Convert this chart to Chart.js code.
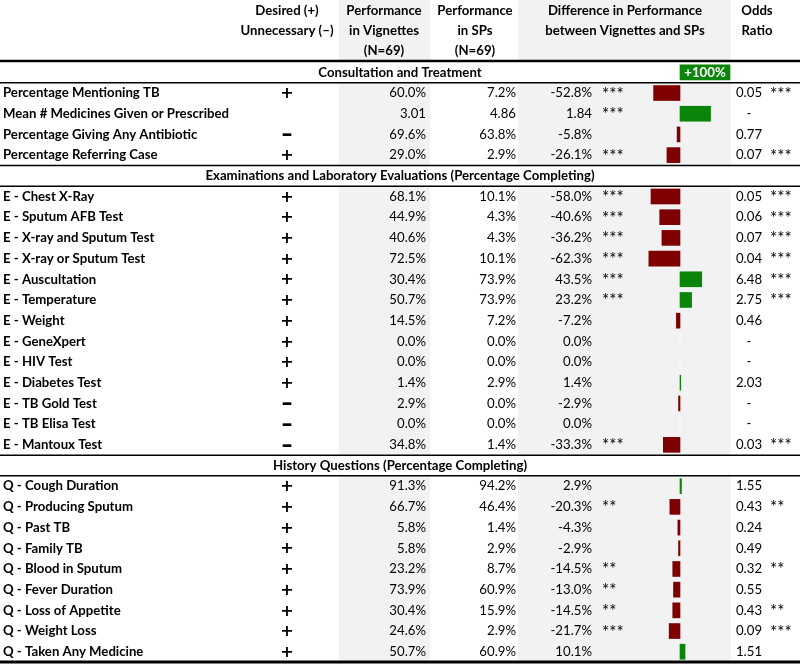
<!DOCTYPE html>
<html>
<head>
<meta charset="utf-8">
<script src="https://cdn.jsdelivr.net/npm/chart.js@4.4.0/dist/chart.umd.min.js"></script>
<style>
  html, body { margin: 0; padding: 0; background: #fff; }
</style>
</head>
<body>
<canvas id="tabela" width="800" height="670"></canvas>
<script>
// Table rows (section titles included so every row lives on the y scale)
const rowLabels = [
    'Consultation and Treatment',
    'Percentage Mentioning TB',
    'Mean # Medicines Given or Prescribed',
    'Percentage Giving Any Antibiotic',
    'Percentage Referring Case',
    'Examinations and Laboratory Evaluations (Percentage Completing)',
    'E - Chest X-Ray',
    'E - Sputum AFB Test',
    'E - X-ray and Sputum Test',
    'E - X-ray or Sputum Test',
    'E - Auscultation',
    'E - Temperature',
    'E - Weight',
    'E - GeneXpert',
    'E - HIV Test',
    'E - Diabetes Test',
    'E - TB Gold Test',
    'E - TB Elisa Test',
    'E - Mantoux Test',
    'History Questions (Percentage Completing)',
    'Q - Cough Duration',
    'Q - Producing Sputum',
    'Q - Past TB',
    'Q - Family TB',
    'Q - Blood in Sputum',
    'Q - Fever Duration',
    'Q - Loss of Appetite',
    'Q - Weight Loss',
    'Q - Taken Any Medicine'
];
const sectionRows = [0, 5, 19];

const signs = ['', '+', '', '\u2013', '+', '', '+', '+', '+', '+', '+', '+', '+', '+', '+', '+', '\u2013', '\u2013', '\u2013',
    '', '+', '+', '+', '+', '+', '+', '+', '+', '+'];
const vignettes = ['', '60.0%', '3.01', '69.6%', '29.0%', '', '68.1%', '44.9%', '40.6%', '72.5%', '30.4%', '50.7%', '14.5%',
    '0.0%', '0.0%', '1.4%', '2.9%', '0.0%', '34.8%', '', '91.3%', '66.7%', '5.8%', '5.8%', '23.2%', '73.9%', '30.4%', '24.6%', '50.7%'];
const sps = ['', '7.2%', '4.86', '63.8%', '2.9%', '', '10.1%', '4.3%', '4.3%', '10.1%', '73.9%', '73.9%', '7.2%',
    '0.0%', '0.0%', '2.9%', '0.0%', '0.0%', '1.4%', '', '94.2%', '46.4%', '1.4%', '2.9%', '8.7%', '60.9%', '15.9%', '2.9%', '60.9%'];
const diffText = ['', '-52.8%', '1.84', '-5.8%', '-26.1%', '', '-58.0%', '-40.6%', '-36.2%', '-62.3%', '43.5%', '23.2%', '-7.2%',
    '0.0%', '0.0%', '1.4%', '-2.9%', '0.0%', '-33.3%', '', '2.9%', '-20.3%', '-4.3%', '-2.9%', '-14.5%', '-13.0%', '-14.5%', '-21.7%', '10.1%'];
const diffStars = ['', '***', '***', '', '***', '', '***', '***', '***', '***', '***', '***', '', '', '', '', '', '', '***',
    '', '', '**', '', '', '**', '**', '**', '***', ''];
// Bar lengths (percentage points); the first one is the +100% scale key
const barValues = [100, -52.8, 61.1, -5.8, -26.1, null, -58.0, -40.6, -36.2, -62.3, 43.5, 23.2, -7.2, 0, 0, 1.4, -2.9, 0, -33.3,
    null, 2.9, -20.3, -4.3, -2.9, -14.5, -13.0, -14.5, -21.7, 10.1];
const oddsRatio = ['', '0.05', '-', '0.77', '0.07', '', '0.05', '0.06', '0.07', '0.04', '6.48', '2.75', '0.46', '-', '-', '2.03',
    '-', '-', '0.03', '', '1.55', '0.43', '0.24', '0.49', '0.32', '0.55', '0.43', '0.09', '1.51'];
const oddsStars = ['', '***', '', '', '***', '', '***', '***', '***', '***', '***', '***', '', '', '', '', '', '', '***',
    '', '', '**', '', '', '**', '', '**', '***', ''];

// Column headers
const headers = [
    { x: 287, lines: ['Desired (+)', 'Unnecessary (\u2013)'] },
    { x: 384, lines: ['Performance', 'in Vignettes', '(N=69)'] },
    { x: 475, lines: ['Performance', 'in SPs', '(N=69)'] },
    { x: 625, lines: ['Difference in Performance', 'between Vignettes and SPs'] },
    { x: 757, lines: ['Odds', 'Ratio'] }
];

const FONT = 'Lato';
const FONT_SIZE = 13.2;
const RED = '#7f0000';
const GREEN = '#0a850a';
const SHADE = '#f2f2f2';

const tablePlugin = {
    id: 'tableText',
    beforeDraw: function(chart) {
        const { ctx, chartArea, scales } = chart;
        const y = scales.y;
        const step = y.getPixelForValue(1) - y.getPixelForValue(0);

        ctx.save();
        // Grey background for vignettes and difference columns
        ctx.fillStyle = SHADE;
        ctx.fillRect(339, 0, 91, chartArea.bottom);
        ctx.fillRect(chartArea.left, 0, chartArea.right - chartArea.left, chartArea.bottom);
        // Section rows stay white
        ctx.fillStyle = '#fff';
        sectionRows.forEach(i => {
            const yc = y.getPixelForValue(i);
            ctx.fillRect(0, yc - step / 2, chart.width, step);
        });
        ctx.restore();
    },
    afterDraw: function(chart) {
        const { ctx, chartArea, scales } = chart;
        const y = scales.y;
        const step = y.getPixelForValue(1) - y.getPixelForValue(0);

        ctx.save();
        ctx.fillStyle = '#000';
        ctx.textBaseline = 'middle';

        // Header
        ctx.font = `bold ${FONT_SIZE}px ${FONT}`;
        ctx.textAlign = 'center';
        headers.forEach(h => {
            h.lines.forEach((t, k) => ctx.fillText(t, h.x, 11 + k * 19.8));
        });

        // Rules
        ctx.strokeStyle = '#000';
        const hline = (yPos, w) => {
            ctx.lineWidth = w;
            ctx.beginPath();
            ctx.moveTo(0, yPos);
            ctx.lineTo(chart.width, yPos);
            ctx.stroke();
        };
        hline(chartArea.top - 1, 2.5);
        sectionRows.forEach(i => {
            const yc = y.getPixelForValue(i);
            if (i > 0) hline(yc - step / 2, 1.5);
            hline(yc + step / 2, 1.5);
        });
        hline(chartArea.bottom, 3);

        // Section titles
        ctx.font = `bold ${FONT_SIZE}px ${FONT}`;
        ctx.textAlign = 'center';
        sectionRows.forEach(i => {
            ctx.fillText(rowLabels[i], chart.width / 2, y.getPixelForValue(i));
        });

        // Cells
        rowLabels.forEach((label, i) => {
            if (sectionRows.includes(i)) return;
            const yc = y.getPixelForValue(i);

            // Signs: the dash needs a bigger size to look as wide as the plus
            ctx.font = signs[i] === '+' ? 'bold 16px "DejaVu Sans"' : 'bold 22px "DejaVu Sans"';
            ctx.textAlign = 'center';
            ctx.fillText(signs[i], 287, yc + 1);

            ctx.font = `${FONT_SIZE}px ${FONT}`;
            ctx.textAlign = 'right';
            ctx.fillText(vignettes[i], 426, yc);
            ctx.fillText(sps[i], 516, yc);
            ctx.fillText(diffText[i], 592, yc);

            ctx.textAlign = 'center';
            ctx.fillText(oddsRatio[i], 749, yc);

            ctx.font = `17px ${FONT}`;
            ctx.textAlign = 'left';
            ctx.fillText(diffStars[i], 602, yc + 1);
            ctx.fillText(oddsStars[i], 770, yc + 1);
        });

        // Label on the scale key bar
        const keyBar = chart.getDatasetMeta(0).data[0];
        ctx.font = `bold ${FONT_SIZE}px ${FONT}`;
        ctx.fillStyle = '#fff';
        ctx.textAlign = 'center';
        ctx.fillText('+100%', (keyBar.x + keyBar.base) / 2, keyBar.y);

        ctx.restore();
    }
};

const ctx = document.getElementById('tabela').getContext('2d');
new Chart(ctx, {
    type: 'bar',
    data: {
        labels: rowLabels,
        datasets: [{
            data: barValues,
            backgroundColor: c => (c.raw === 0 ? '#ffffff' : c.raw > 0 ? GREEN : RED),
            borderWidth: 0,
            barThickness: 15
        }]
    },
    options: {
        indexAxis: 'y',
        responsive: false,
        animation: false,
        layout: {
            padding: { top: 62, bottom: 4, left: 3, right: 69 }
        },
        scales: {
            x: {
                display: false,
                min: -324,
                max: 102
            },
            y: {
                grid: { display: false },
                border: { display: false },
                afterFit: function(scale) {
                    scale.width = 515;
                },
                ticks: {
                    autoSkip: false,
                    crossAlign: 'far',
                    padding: 0,
                    color: '#000',
                    font: { family: FONT, size: FONT_SIZE, weight: 'bold' },
                    callback: function(value, index) {
                        return sectionRows.includes(index) ? '' : rowLabels[index];
                    }
                }
            }
        },
        plugins: {
            legend: { display: false },
            tooltip: { enabled: false }
        }
    },
    plugins: [tablePlugin]
});
</script>
</body>
</html>
